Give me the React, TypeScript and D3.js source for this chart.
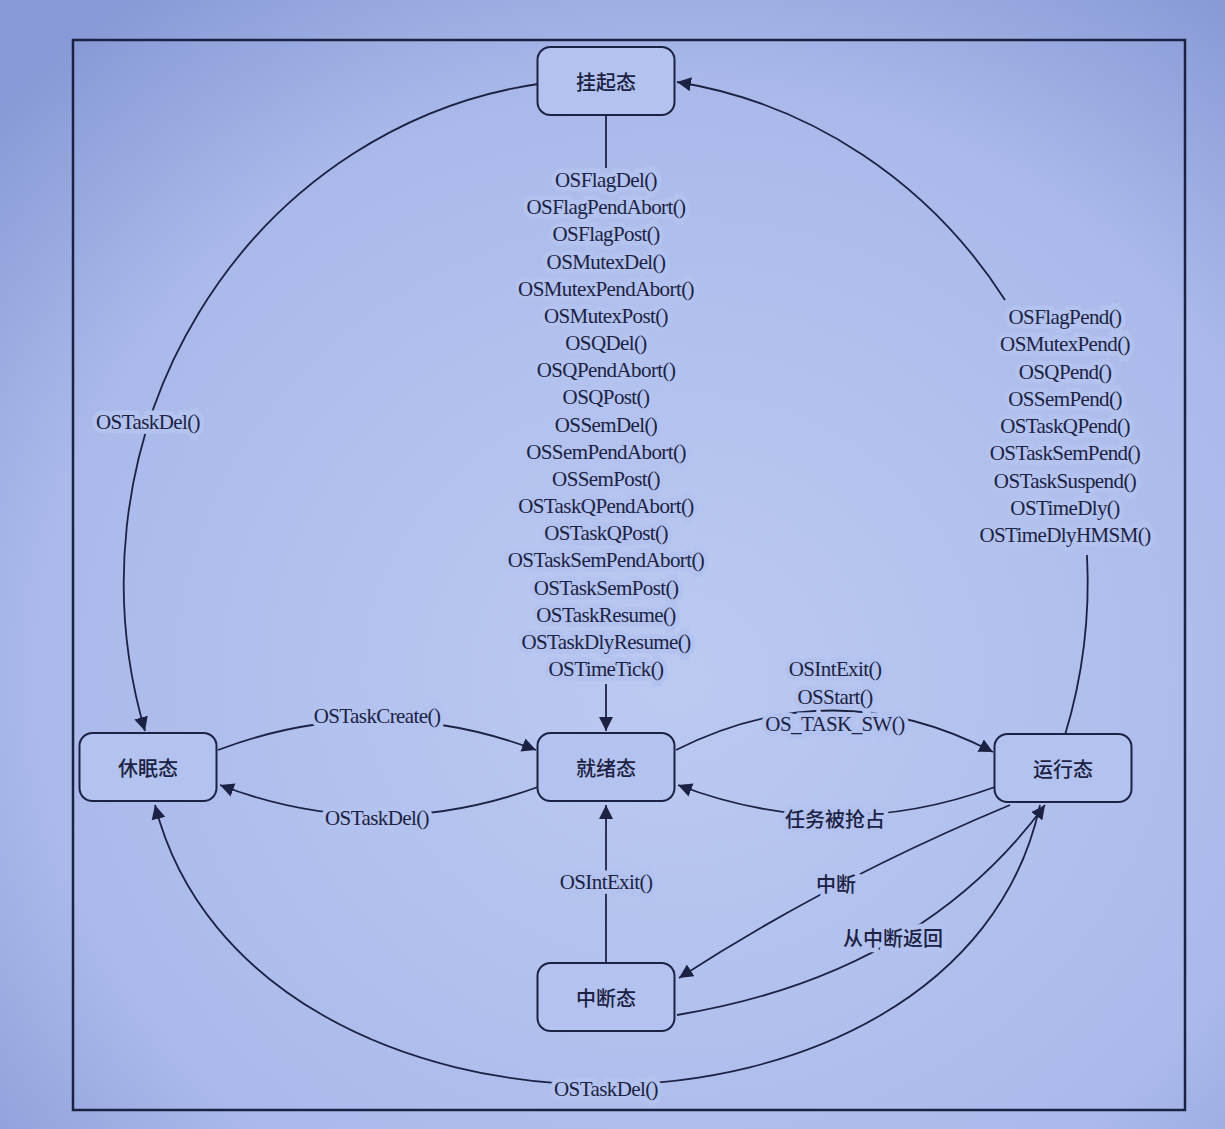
import * as React from 'react';
import * as d3 from 'd3';

// states and their centres
const states = [
  { id: 'pend', name: '挂起态', x: 606, y: 81 },
  { id: 'dormant', name: '休眠态', x: 148, y: 767 },
  { id: 'ready', name: '就绪态', x: 606, y: 767 },
  { id: 'run', name: '运行态', x: 1063, y: 768 },
  { id: 'isr', name: '中断态', x: 606, y: 997 },
];

const pendToReady = [
  'OSFlagDel()', 'OSFlagPendAbort()', 'OSFlagPost()', 'OSMutexDel()', 'OSMutexPendAbort()',
  'OSMutexPost()', 'OSQDel()', 'OSQPendAbort()', 'OSQPost()', 'OSSemDel()', 'OSSemPendAbort()',
  'OSSemPost()', 'OSTaskQPendAbort()', 'OSTaskQPost()', 'OSTaskSemPendAbort()', 'OSTaskSemPost()',
  'OSTaskResume()', 'OSTaskDlyResume()', 'OSTimeTick()',
];
const runToPend = [
  'OSFlagPend()', 'OSMutexPend()', 'OSQPend()', 'OSSemPend()', 'OSTaskQPend()',
  'OSTaskSemPend()', 'OSTaskSuspend()', 'OSTimeDly()', 'OSTimeDlyHMSM()',
];
const readyToRun = ['OSIntExit()', 'OSStart()', 'OS_TASK_SW()'];

const INK = '#1c2244';
const BW = 137, BH = 68;

const App: React.FC = () => {
  const ref = React.useRef<SVGSVGElement>(null);

  React.useEffect(() => {
    const svg = d3.select(ref.current);
    svg.selectAll('*').remove();
    const defs = svg.append('defs');
    const g = defs.append('radialGradient').attr('id', 'bg').attr('cx', '55%').attr('cy', '60%').attr('r', '75%');
    g.append('stop').attr('offset', '0%').attr('stop-color', '#bccaf2');
    g.append('stop').attr('offset', '70%').attr('stop-color', '#aab9ea');
    g.append('stop').attr('offset', '100%').attr('stop-color', '#8799d6');
    defs.append('marker').attr('id', 'arr').attr('viewBox', '0 0 10 10').attr('refX', 10).attr('refY', 5)
      .attr('markerWidth', 14).attr('markerHeight', 14).attr('markerUnits', 'userSpaceOnUse').attr('orient', 'auto')
      .append('path').attr('d', 'M0,0L10,5L0,10Z').attr('fill', INK);

    svg.append('rect').attr('width', 1225).attr('height', 1129).attr('fill', 'url(#bg)');
    svg.append('rect').attr('x', 73).attr('y', 40).attr('width', 1112).attr('height', 1070)
      .attr('fill', 'none').attr('stroke', INK).attr('stroke-width', 2.5);

    const edge = (d: string, arrow = true) =>
      svg.append('path').attr('d', d).attr('fill', 'none').attr('stroke', INK).attr('stroke-width', 1.8)
        .attr('marker-end', arrow ? 'url(#arr)' : null);

    // big ellipse arcs
    edge('M538,84 A482,504 0 0 0 145,731');
    edge('M1065,735 A482,504 0 0 0 1087,555', false);
    edge('M1005,300 A482,504 0 0 0 677,82');
    edge('M1040,805 C960,1178 250,1178 155,805');
    // vertical links
    edge('M606,115 L606,168', false);
    edge('M606,684 L606,731');
    edge('M606,963 L606,805');
    // curved links
    edge('M218,750 Q377,690 536,750');
    edge('M538,787 Q377,845 220,785');
    edge('M676,750 Q835,670 993,752');
    edge('M995,787 Q835,845 678,785');
    edge('M1010,805 Q830,880 679,978');
    edge('M677,1015 Q920,975 1045,805');

    const label = (x: number, y: number, t: string, cjk = false) =>
      svg.append('text').attr('x', x).attr('y', y).attr('text-anchor', 'middle').attr('dominant-baseline', 'central')
        .attr('font-family', cjk ? "'Noto Sans CJK SC'" : "'Liberation Serif'")
        .attr('font-size', cjk ? 20 : 21).attr('font-weight', cjk ? 500 : 400)
        .attr('letter-spacing', cjk ? 0 : -0.6).attr('fill', INK)
        .attr('stroke', '#b3c2ee').attr('stroke-width', 9).attr('paint-order', 'stroke').text(t);

    const rowY = d3.scaleLinear().domain([0, pendToReady.length - 1]).range([180, 669]);
    pendToReady.forEach((t, i) => label(606, rowY(i), t));
    const rowY2 = d3.scaleLinear().domain([0, runToPend.length - 1]).range([317, 535]);
    runToPend.forEach((t, i) => label(1065, rowY2(i), t));
    const rowY3 = d3.scaleLinear().domain([0, readyToRun.length - 1]).range([669, 724]);
    readyToRun.forEach((t, i) => label(835, rowY3(i), t));

    label(148, 422, 'OSTaskDel()');
    label(377, 716, 'OSTaskCreate()');
    label(377, 818, 'OSTaskDel()');
    label(835, 818, '任务被抢占', true);
    label(836, 883, '中断', true);
    label(893, 937, '从中断返回', true);
    label(606, 882, 'OSIntExit()');
    label(606, 1089, 'OSTaskDel()');

    const node = svg.selectAll('g.node').data(states).enter().append('g')
      .attr('transform', d => `translate(${d.x},${d.y})`);
    node.append('rect').attr('x', -BW / 2).attr('y', -BH / 2).attr('width', BW).attr('height', BH)
      .attr('rx', 13).attr('fill', '#b3c2ee').attr('stroke', INK).attr('stroke-width', 2);
    node.append('text').attr('text-anchor', 'middle').attr('dominant-baseline', 'central')
      .attr('font-family', "'Noto Sans CJK SC'").attr('font-size', 20).attr('font-weight', 500)
      .attr('fill', INK).text(d => d.name);
  }, []);

  return <svg ref={ref} width={1225} height={1129} style={{ position: 'absolute', left: 0, top: 0 }} />;
};

export default App;
